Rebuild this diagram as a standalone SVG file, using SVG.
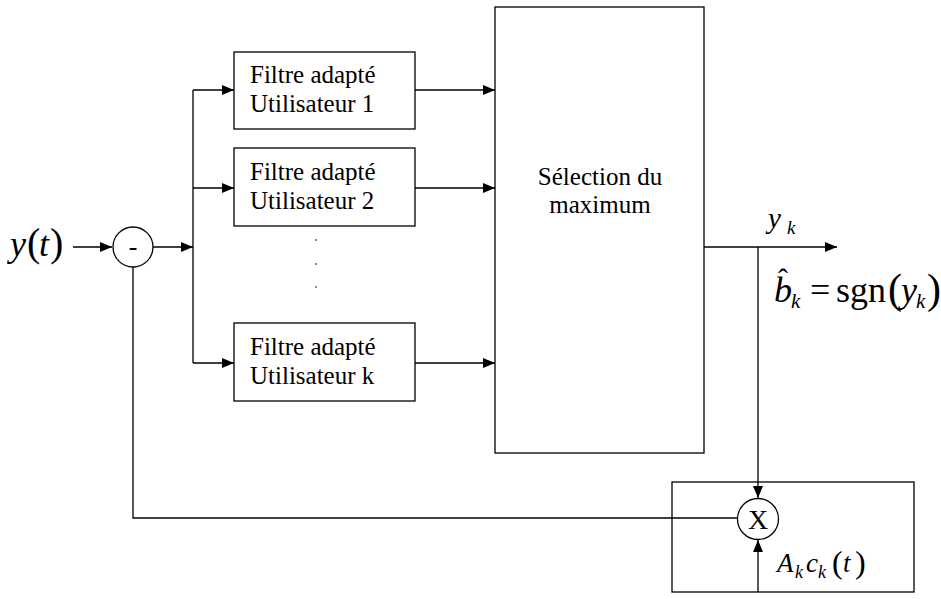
<svg xmlns="http://www.w3.org/2000/svg" width="941" height="599" viewBox="0 0 941 599">
<defs>
<marker id="ar" viewBox="0 0 12 10" refX="12" refY="5" markerWidth="12" markerHeight="10" markerUnits="userSpaceOnUse" orient="auto">
<path d="M0,0 L12,5 L0,10 z" fill="#000"/>
</marker>
</defs>
<style>
.b{fill:#fff;stroke:#000;stroke-width:1.3}
.o{fill:none;stroke:#000;stroke-width:1.3}
.l{fill:none;stroke:#000;stroke-width:1.3}
.s{font-family:'Liberation Serif','Tinos','Times New Roman','DejaVu Serif',serif;fill:#000}
.i{font-style:italic}
</style>
<rect width="941" height="599" fill="#fff"/>
<g id="mod">
<rect class="o" x="672" y="482" width="242" height="110"/>
</g>
<g id="connectors">
<line class="l" x1="73" y1="247" x2="112" y2="247" marker-end="url(#ar)"/>
<line class="l" x1="153" y1="247" x2="193" y2="247" marker-end="url(#ar)"/>
<line class="l" x1="193" y1="90" x2="193" y2="363"/>
<line class="l" x1="193" y1="90" x2="234" y2="90" marker-end="url(#ar)"/>
<line class="l" x1="193" y1="188" x2="234" y2="188" marker-end="url(#ar)"/>
<line class="l" x1="193" y1="363" x2="234" y2="363" marker-end="url(#ar)"/>
<line class="l" x1="415" y1="90" x2="495" y2="90" marker-end="url(#ar)"/>
<line class="l" x1="415" y1="188" x2="495" y2="188" marker-end="url(#ar)"/>
<line class="l" x1="415" y1="363" x2="495" y2="363" marker-end="url(#ar)"/>
<line class="l" x1="704" y1="247" x2="837" y2="247" marker-end="url(#ar)"/>
<line class="l" x1="758" y1="247" x2="758" y2="498" marker-end="url(#ar)"/>
<polyline class="l" points="133,267 133,518 737,518"/>
<line class="l" x1="758" y1="592" x2="758" y2="540" marker-end="url(#ar)"/>
</g>
<g id="sub">
<circle class="b" cx="133" cy="247" r="20"/>
<text class="s" x="133" y="255" font-size="26" text-anchor="middle">-</text>
</g>
<g id="f1" class="s" font-size="25">
<rect class="b" x="234" y="52" width="181" height="77"/>
<text x="250" y="83">Filtre adapté</text>
<text x="250" y="112">Utilisateur 1</text>
</g>
<g id="f2" class="s" font-size="25">
<rect class="b" x="234" y="148" width="181" height="78"/>
<text x="250" y="180">Filtre adapté</text>
<text x="250" y="209">Utilisateur 2</text>
</g>
<g id="dots">
<circle cx="316" cy="240" r="0.8" fill="#000"/>
<circle cx="316" cy="264" r="0.8" fill="#000"/>
<circle cx="316" cy="287" r="0.8" fill="#000"/>
</g>
<g id="fk" class="s" font-size="25">
<rect class="b" x="234" y="323" width="181" height="78"/>
<text x="250" y="355">Filtre adapté</text>
<text x="250" y="384">Utilisateur k</text>
</g>
<g id="sel" class="s" font-size="25">
<rect class="b" x="495" y="7" width="209" height="446"/>
<text x="600" y="185" text-anchor="middle">Sélection du</text>
<text x="600" y="213" text-anchor="middle">maximum</text>
</g>
<g id="mult">
<circle class="b" cx="758" cy="519" r="20.5"/>
<text class="s" x="758" y="529" font-size="28" text-anchor="middle">X</text>
</g>
<g id="labels" class="s">
<text x="10" y="256" font-size="36"><tspan class="i">y</tspan><tspan x="27" font-size="40">(</tspan><tspan x="39" class="i">t</tspan><tspan x="50" font-size="40">)</tspan></text>
<text x="768" y="228" font-size="29"><tspan class="i">y</tspan><tspan x="787" y="234" class="i" font-size="19">k</tspan></text>
<text x="783" y="289" font-size="30" text-anchor="middle">ˆ</text>
<text x="774" y="302" font-size="36"><tspan class="i">b</tspan><tspan x="791" y="308" class="i" font-size="21">k</tspan><tspan x="810" y="302">=</tspan><tspan x="836">sgn</tspan><tspan x="888" y="303" font-size="42">(</tspan><tspan x="901" y="302" class="i">y</tspan><tspan x="916" y="308" class="i" font-size="21">k</tspan><tspan x="927" y="303" font-size="42">)</tspan></text>
<text x="777" y="572" font-size="27"><tspan class="i">A</tspan><tspan x="795" y="578" class="i" font-size="18">k</tspan><tspan x="806" y="572" class="i">c</tspan><tspan x="818" y="578" class="i" font-size="18">k</tspan><tspan x="832" y="573" font-size="32">(</tspan><tspan x="843" y="572" class="i">t</tspan><tspan x="855" y="573" font-size="32">)</tspan></text>
</g>
</svg>
